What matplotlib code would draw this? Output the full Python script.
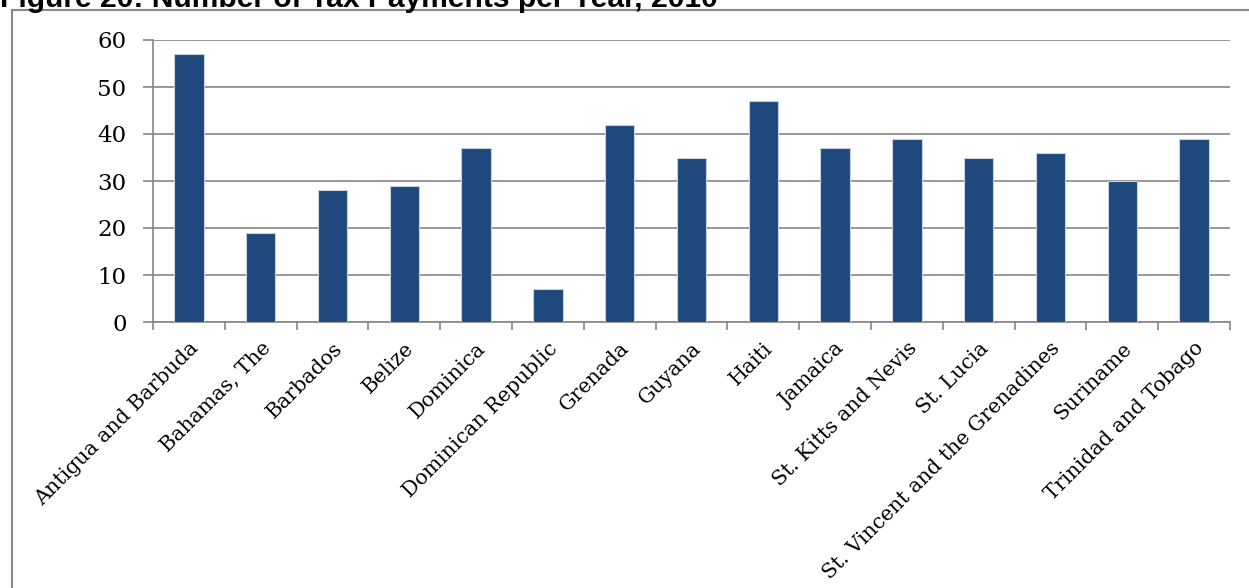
import matplotlib.pyplot as plt
from matplotlib.patches import Rectangle

countries = ["Antigua and Barbuda", "Bahamas, The", "Barbados", "Belize", "Dominica",
             "Dominican Republic", "Grenada", "Guyana", "Haiti", "Jamaica",
             "St. Kitts and Nevis", "St. Lucia", "St. Vincent and the Grenadines",
             "Suriname", "Trinidad and Tobago"]
payments = [57, 19, 28, 29, 37, 7, 42, 35, 47, 37, 39, 35, 36, 30, 39]

fig = plt.figure(figsize=(12.49, 5.88), dpi=100)

# chart frame and the clipped caption above it
fig.patches.append(Rectangle((12 / 1249, -0.1), 1.1, 1 - 10 / 588 + 0.1,
                             transform=fig.transFigure, fill=False,
                             edgecolor="#888888", linewidth=1.5))
fig.text(0.0, 1 - 7 / 588, "Figure 20: Number of Tax Payments per Year, 2010",
         fontsize=21.6, fontweight="bold", family="Liberation Sans", va="baseline")

ax = fig.add_axes([153 / 1249, 1 - 322 / 588, (1230 - 153) / 1249, (322 - 40) / 588])
x = range(len(countries))
ax.bar(x, payments, width=0.41, color="#1F497D", edgecolor="#c8d0dc", linewidth=0.8,
       zorder=3)

ax.set_xlim(-0.5, len(countries) - 0.5)
ax.set_ylim(0, 60)
ax.set_yticks(range(0, 61, 10))
ax.yaxis.grid(True, color="#868686", linewidth=1.2, zorder=0)
for s in ["top", "right"]:
    ax.spines[s].set_visible(False)
for s in ["left", "bottom"]:
    ax.spines[s].set_color("#868686")
    ax.spines[s].set_linewidth(1.2)

ax.set_xticks([i - 0.5 for i in range(len(countries) + 1)], minor=False)
ax.set_xticklabels([])
ax.set_xticks(list(x), minor=True)
ax.set_xticklabels(countries, minor=True, rotation=45, ha="right",
                   rotation_mode="anchor", family="DejaVu Serif", fontsize=14.8)
ax.tick_params(axis="x", which="minor", length=0, pad=12)
ax.tick_params(axis="x", which="major", length=6, color="#868686", width=1.2)
ax.tick_params(axis="y", length=7, color="#868686", width=1.2, pad=12)
for lbl in ax.get_yticklabels():
    lbl.set_family("DejaVu Serif")
    lbl.set_fontsize(16.5)

fig.savefig("out.png", dpi=100)
